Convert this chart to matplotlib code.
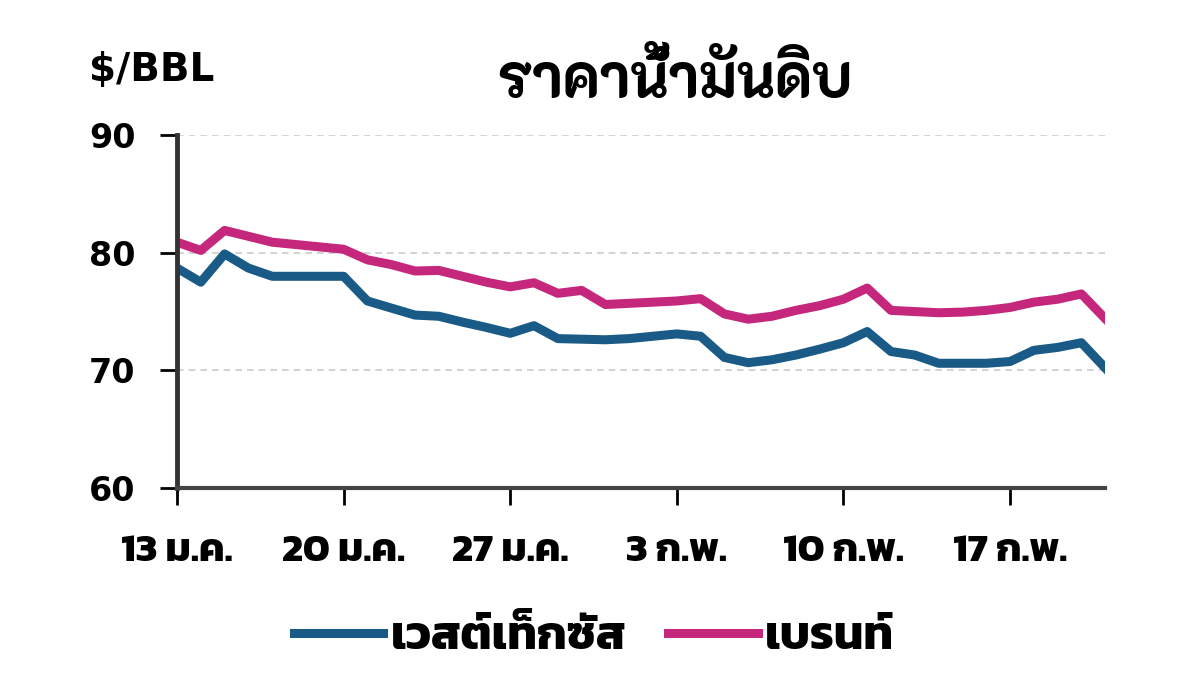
import matplotlib
matplotlib.use("Agg")
import matplotlib.pyplot as plt

# daily values, 13 Jan .. 21 Feb
days = list(range(40))
wti = [78.7, 77.5, 79.9, 78.7, 78.0, 78.0, 78.0, 78.0, 75.9, 75.3,
       74.7, 74.6, 74.1, 73.65, 73.15, 73.8, 72.7, 72.65, 72.6, 72.7,
       72.9, 73.1, 72.9, 71.1, 70.65, 70.9, 71.3, 71.8, 72.35, 73.3,
       71.6, 71.3, 70.6, 70.6, 70.6, 70.75, 71.7, 71.95, 72.35, 70.2]
brent = [80.9, 80.2, 81.9, 81.4, 80.9, 80.7, 80.5, 80.3, 79.4, 79.0,
         78.45, 78.5, 78.0, 77.5, 77.1, 77.45, 76.55, 76.8, 75.6, 75.7,
         75.8, 75.9, 76.1, 74.8, 74.35, 74.6, 75.1, 75.5, 76.05, 77.0,
         75.1, 75.0, 74.9, 74.95, 75.1, 75.35, 75.8, 76.05, 76.5, 74.4]
tick_days = [0, 7, 14, 21, 28, 35]
tick_labels = ["13 ม.ค.", "20 ม.ค.", "27 ม.ค.", "3 ก.พ.", "10 ก.พ.", "17 ก.พ."]
yticks = [60, 70, 80, 90]

plt.rcParams["font.family"] = ["DejaVu Sans", "Kanit"]

fig = plt.figure(figsize=(12, 6.97), dpi=100)
ax = fig.add_axes([0.1475, 0.30, 0.7735, 0.506])

ax.plot(days, wti, color="#1a5a87", lw=6.5, label="เวสต์เท็กซัส", solid_joinstyle="round")
ax.plot(days, brent, color="#c4277c", lw=6.5, label="เบรนท์", solid_joinstyle="round")

ax.set_xlim(0, 39)
ax.set_ylim(60, 90)
ax.set_yticks(yticks)
ax.set_xticks(tick_days)
ax.set_xticklabels(tick_labels)
for y in [70, 80, 90]:
    ax.axhline(y, color="#cccccc", lw=1.2, ls=(0, (4, 3)), zorder=0)

for s in ["top", "right"]:
    ax.spines[s].set_visible(False)
ax.spines["left"].set_color("#333333")
ax.spines["left"].set_linewidth(3.5)
ax.spines["bottom"].set_color("#444444")
ax.spines["bottom"].set_linewidth(3)
ax.tick_params(axis="y", length=12, width=2, pad=18)
ax.tick_params(axis="x", length=12, width=2, pad=22)
for t in ax.get_yticklabels():
    t.set_fontsize(24)
    t.set_fontweight("bold")
for t in ax.get_xticklabels():
    t.set_fontfamily(["Kanit", "DejaVu Sans"])
    t.set_fontsize(29)
    t.set_fontweight("bold")

fig.text(0.5625, 0.885, "ราคาน้ำมันดิบ", ha="center", va="center",
         fontsize=42, fontweight=800, family=["K2D", "DejaVu Sans"])
fig.text(0.074, 0.90, "$/BBL", ha="left", va="center", fontsize=28,
         fontweight="bold", family=["DejaVu Sans"])

fig.legend(loc="center", bbox_to_anchor=(0.495, 0.085), ncol=2, frameon=False,
           prop={"family": ["Kanit", "DejaVu Sans"], "size": 34, "weight": "bold"},
           handlelength=1.9, handletextpad=0.15, columnspacing=0.9)

fig.savefig("out.png", dpi=100)
